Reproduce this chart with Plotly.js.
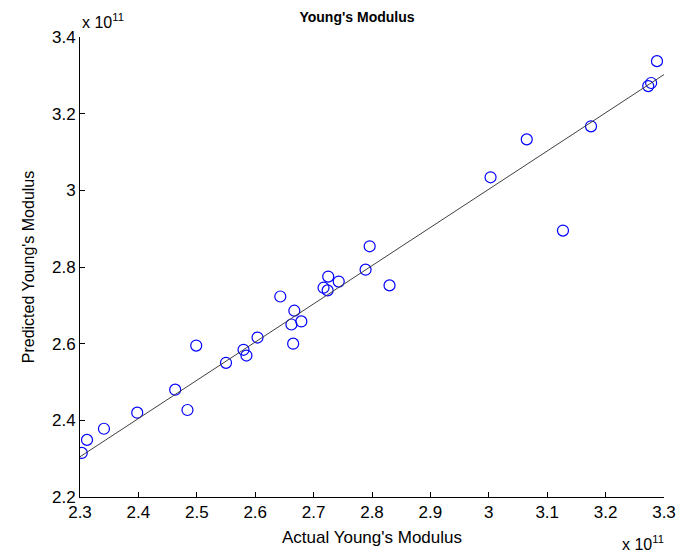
<!DOCTYPE html>
<html>
<head>
<meta charset="utf-8">
<script src="https://cdn.plot.ly/plotly-3.0.1.min.js"></script>
<style>html,body{margin:0;padding:0;background:#fff;}#chart{width:696px;height:556px;}</style>
</head>
<body>
<div id="chart"></div>
<script>
// Values in units of 10^11 Pa
const actual = [2.303, 2.312, 2.341, 2.398, 2.463, 2.484, 2.499, 2.550, 2.580, 2.585,
                2.604, 2.643, 2.662, 2.667, 2.665, 2.679, 2.717, 2.724, 2.725, 2.743,
                2.789, 2.796, 2.830, 3.003, 3.065, 3.127, 3.175, 3.273, 3.278, 3.288];
const predicted = [2.315, 2.349, 2.378, 2.420, 2.480, 2.427, 2.595, 2.550, 2.584, 2.569,
                   2.616, 2.723, 2.650, 2.686, 2.600, 2.658, 2.746, 2.739, 2.775, 2.762,
                   2.793, 2.854, 2.752, 3.034, 3.133, 2.895, 3.167, 3.272, 3.280, 3.337];
const fitX = [2.3, 3.3];
const fitY = [2.305, 3.302];
const xTicks = [2.3, 2.4, 2.5, 2.6, 2.7, 2.8, 2.9, 3.0, 3.1, 3.2, 3.3];
const xTickText = ['2.3','2.4','2.5','2.6','2.7','2.8','2.9','3','3.1','3.2','3.3'];
const yTicks = [2.2, 2.4, 2.6, 2.8, 3.0, 3.2, 3.4];
const yTickText = ['2.2','2.4','2.6','2.8','3','3.2','3.4'];

const FONT = 'Liberation Sans, Arial, Helvetica, sans-serif';

const traces = [
  {x: actual, y: predicted, type: 'scatter', mode: 'markers',
   marker: {symbol: 'circle-open', size: 11, color: '#0000ff', line: {width: 1.2, color: '#0000ff'}},
   showlegend: false, hoverinfo: 'x+y'},
  {x: fitX, y: fitY, type: 'scatter', mode: 'lines',
   line: {color: '#404040', width: 1}, showlegend: false}
];

const layout = {
  width: 696, height: 556,
  margin: {l: 80, r: 32, t: 37, b: 59},
  paper_bgcolor: '#fff', plot_bgcolor: '#fff',
  font: {family: FONT, size: 17, color: '#000'},
  title: {text: "<b>Young's Modulus</b>", font: {family: FONT, size: 14, color: '#000'},
          x: 357/696, xanchor: 'center', y: 1 - 17/556, yanchor: 'middle'},
  xaxis: {range: [2.3, 3.3], tickvals: xTicks, ticktext: xTickText,
          ticks: 'inside', ticklen: 5, tickcolor: '#000', tickwidth: 1,
          showline: true, linecolor: '#000', linewidth: 1, showgrid: false, zeroline: false,
          tickfont: {family: FONT, size: 17, color: '#000'},
          title: {text: "Actual Young's Modulus", font: {family: FONT, size: 17, color: '#000'}, standoff: 9}},
  yaxis: {range: [2.2, 3.4], tickvals: yTicks, ticktext: yTickText,
          ticks: 'inside', ticklen: 5, tickcolor: '#000', tickwidth: 1,
          showline: true, linecolor: '#000', linewidth: 1, showgrid: false, zeroline: false,
          tickfont: {family: FONT, size: 17, color: '#000'},
          title: {text: "Predicted Young's Modulus", font: {family: FONT, size: 16, color: '#000'}, standoff: 13}},
  annotations: [
    {xref: 'paper', yref: 'paper', x: 0, y: 1, xanchor: 'left', yanchor: 'bottom', yshift: 4,
     text: 'x 10<sup>11</sup>', showarrow: false, font: {family: FONT, size: 16, color: '#000'}},
    {xref: 'paper', yref: 'paper', x: 1, y: 0, xanchor: 'right', yanchor: 'top', yshift: -34, xshift: 2,
     text: 'x 10<sup>11</sup>', showarrow: false, font: {family: FONT, size: 16, color: '#000'}}
  ]
};

Plotly.newPlot('chart', traces, layout, {displayModeBar: false, staticPlot: true});
</script>
</body>
</html>
